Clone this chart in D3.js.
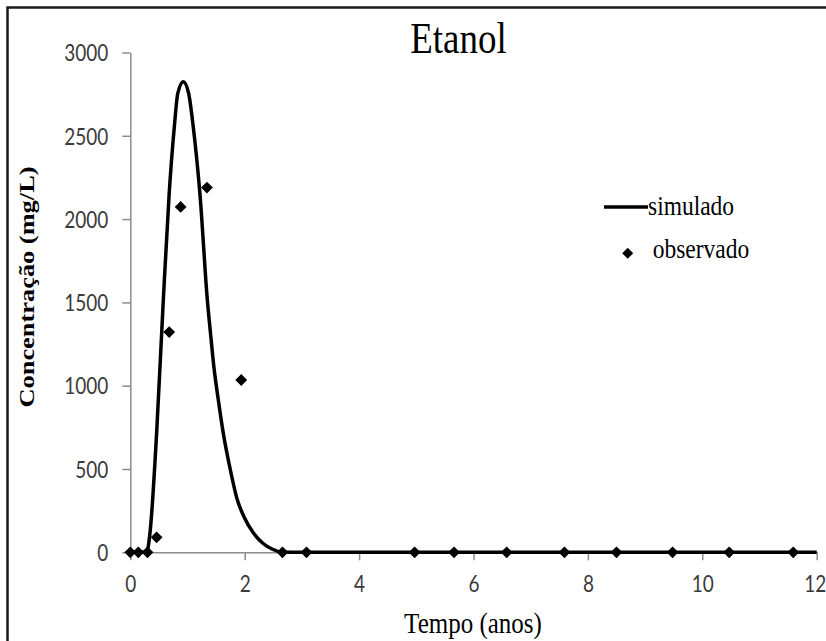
<!DOCTYPE html>
<html>
<head>
<meta charset="utf-8">
<script src="https://cdn.jsdelivr.net/npm/d3@7"></script>
<style>
  html, body { margin: 0; padding: 0; background: #fff; }
  svg { display: block; }
</style>
</head>
<body>
<div id="chart"></div>
<script>
// Etanol - simulado vs observado
const simTime = [0, 0.2, 0.29, 0.344, 0.46, 0.577, 0.68, 0.77, 0.83, 0.927, 1.02, 1.10, 1.22, 1.347, 1.402, 1.461, 1.539, 1.626, 1.735, 1.872, 1.989, 2.156, 2.313, 2.477, 2.65, 3, 12];
const simConc = [0, 0, 5, 116, 714, 1514, 2155, 2555, 2755, 2825, 2755, 2555, 2140, 1514, 1316, 1114, 914, 714, 518, 314, 212, 114, 56, 20, 2, 0, 0];

const obsTime = [0, 0.14, 0.30, 0.46, 0.68, 0.88, 1.34, 1.94, 2.66, 3.08, 4.97, 5.66, 6.58, 7.59, 8.50, 9.48, 10.47, 11.59];
const obsConc = [0, 0, 0, 90, 1322, 2073, 2189, 1034, 0, 0, 0, 0, 0, 0, 0, 0, 0, 0];

const xTicks = [0, 2, 4, 6, 8, 10, 12];
const yTicks = [0, 500, 1000, 1500, 2000, 2500, 3000];

const legendItems = ['simulado', 'observado'];

const width = 826, height = 641;
const stretch = 1.2; // the source image is a bit taller than wide

const svg = d3.select('#chart').append('svg').attr('width', width).attr('height', height);

// outer frame (right and bottom run off the picture)
svg.append('rect')
    .attr('x', 7.5).attr('y', 7.5).attr('width', 840).attr('height', 660)
    .attr('fill', 'none').attr('stroke', '#1a1a1a').attr('stroke-width', 2.5);

const x = d3.scaleLinear().domain([0, 12]).range([130.3, 816.7]);
const y = d3.scaleLinear().domain([0, 3000]).range([552.3, 52.5]);

// axes
const gx = svg.append('g').attr('transform', `translate(0,${y(0)})`)
    .call(d3.axisBottom(x).tickValues(xTicks).tickFormat(d3.format('d')).tickSize(8).tickSizeOuter(0));
const gy = svg.append('g').attr('transform', `translate(${x(0)},0)`)
    .call(d3.axisLeft(y).tickValues(yTicks).tickFormat(d3.format('d')).tickSize(8).tickSizeOuter(0).tickPadding(14));

[gx, gy].forEach(g => {
    g.select('.domain').attr('stroke', '#8c8c8c').attr('stroke-width', 1.5);
    g.selectAll('.tick line').attr('stroke', '#8c8c8c').attr('stroke-width', 1.5);
    g.selectAll('.tick text')
        .attr('font-family', 'Lato, "Open Sans", sans-serif')
        .attr('font-size', 19).attr('fill', '#3a3a3a');
});
gx.selectAll('.tick text').attr('dy', null).attr('y', 40 / stretch)
    .attr('x', d => d === 12 ? -2 : 0)
    .attr('transform', `scale(1,${stretch})`);
gy.selectAll('.tick text').attr('dy', '0.36em')
    .attr('transform', `scale(1,${stretch})`);

// simulated curve
const simData = simTime.map((t, i) => ({ t, c: simConc[i] }));
const line = d3.line().x(d => x(d.t)).y(d => y(d.c)).curve(d3.curveMonotoneX);
svg.append('path').datum(simData)
    .attr('d', line).attr('fill', 'none')
    .attr('stroke', '#000').attr('stroke-width', 3.5).attr('stroke-linejoin', 'round');

// observed points
const diamond = d3.symbol().type(d3.symbolSquare).size(70);
const obsData = obsTime.map((t, i) => ({ t, c: obsConc[i] }));
svg.append('g').selectAll('path').data(obsData).enter().append('path')
    .attr('d', diamond)
    .attr('transform', d => `translate(${x(d.t)},${y(d.c)}) rotate(45)`)
    .attr('fill', '#000');

// text helper with vertical stretch
function label(px, py, txt, opts) {
    const g = svg.append('g').attr('transform', `translate(${px},${py}) scale(1,${stretch})` + (opts.rotate ? ` rotate(${opts.rotate})` : ''));
    g.append('text').text(txt)
        .attr('text-anchor', opts.anchor || 'start')
        .attr('font-family', opts.family || '"Liberation Serif", "Times New Roman", serif')
        .attr('font-size', opts.size)
        .attr('font-weight', opts.weight || 'normal')
        .attr('fill', '#000');
}

label(458.5, 53, 'Etanol', { size: 37, anchor: 'middle' });
label(473, 633, 'Tempo (anos)', { size: 25, anchor: 'middle' });
label(34, 287, 'Concentração (mg/L)', { size: 22, anchor: 'middle', weight: 'bold', rotate: -90 });

// legend
const lg = svg.append('g');
lg.append('line').attr('x1', 604).attr('x2', 648).attr('y1', 207).attr('y2', 207)
    .attr('stroke', '#000').attr('stroke-width', 3.5);
lg.append('path').attr('d', d3.symbol().type(d3.symbolSquare).size(60))
    .attr('transform', 'translate(627.7,253.3) rotate(45)').attr('fill', '#000');
label(648, 215, legendItems[0], { size: 23.5 });
label(652.7, 258, legendItems[1], { size: 23.5 });
</script>
</body>
</html>
